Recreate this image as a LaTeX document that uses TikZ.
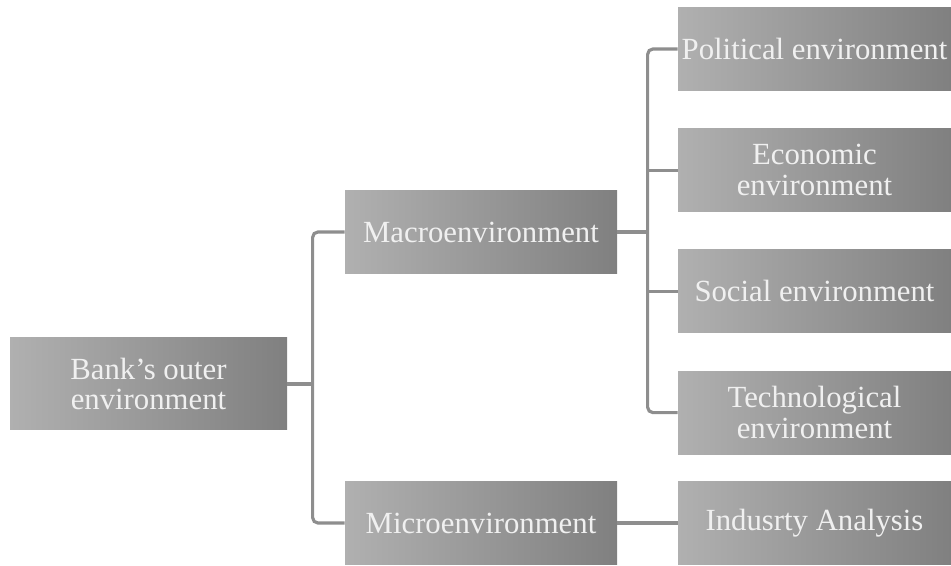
\documentclass[tikz,border=0pt]{standalone}
\usepackage{fontspec}
\setmainfont{Liberation Serif}
\usepackage{tikz}
\usetikzlibrary{positioning,calc}
\definecolor{boxlight}{HTML}{B0B0B0}
\definecolor{boxdark}{HTML}{808080}
\definecolor{linkgray}{HTML}{8E8E8E}

\begin{document}
\begin{tikzpicture}[font=\fontsize{17.5}{17.5}\selectfont,
    envbox/.style={left color=boxlight,right color=boxdark,text=white!94!black,
        minimum height=1.66cm,align=center,inner sep=0pt},
    link/.style={draw=linkgray,line width=1.8pt,rounded corners=3pt}]
        \useasboundingbox (0,0) rectangle (19.02,11.32);
        % root and the two branches
        \node[envbox,minimum width=5.54cm,minimum height=1.84cm] (bank) at (2.97,3.64)
              {Bank's outer\\environment};
        \node[envbox,minimum width=5.44cm] (macro) at (9.62,6.68) {Macroenvironment};
        \node[envbox,minimum width=5.44cm] (micro) at (9.62,0.86) {Microenvironment};
        % leaves
        \node[envbox,minimum width=5.46cm] (political) at (16.29,10.34) {Political environment};
        \node[envbox,minimum width=5.46cm,below=0.75cm of political] (economic) {Economic\\environment};
        \node[envbox,minimum width=5.46cm,below=0.75cm of economic] (social) {Social environment};
        \node[envbox,minimum width=5.46cm,below=0.75cm of social] (tech) {Technological\\environment};
        \node[envbox,minimum width=5.46cm] (industry) at (political |- micro) {Indusrty Analysis};
        % connectors
        \draw[link] (bank.east) -- ++(0.52,0);
        \draw[link] (macro.west) -- ++(-0.64,0) |- (micro.west);
        \draw[link] (macro.east) -- ++(0.62,0);
        \draw[link] (political.west) -- ++(-0.6,0) |- (tech.west);
        \draw[link] (economic.west) -- ++(-0.6,0);
        \draw[link] (social.west) -- ++(-0.6,0);
        \draw[link] (micro) -- (industry);
      \end{tikzpicture}
\end{document}
